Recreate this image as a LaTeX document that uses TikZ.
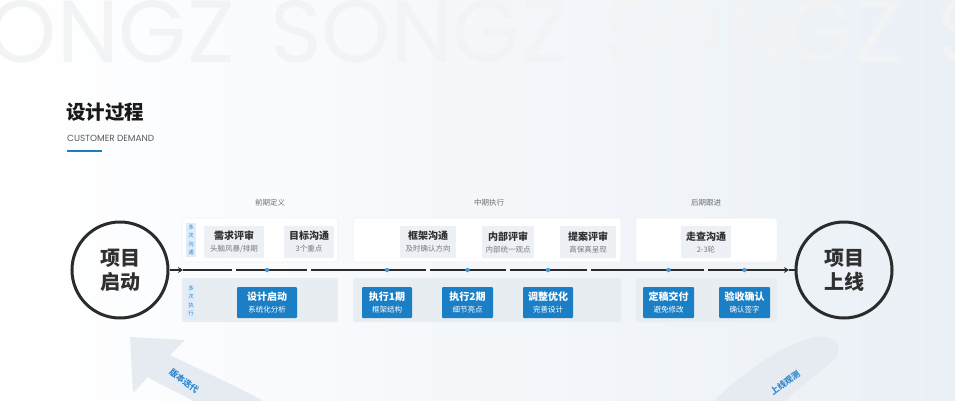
\documentclass[tikz,border=0pt]{standalone}
\usepackage{fontspec}
\setmainfont{Noto Sans CJK SC}
\newfontfamily\popf{Poppins}
\usetikzlibrary{arrows.meta}
\definecolor{ink}{HTML}{2B2B2B}
\definecolor{bblue}{HTML}{1B7FC5}
\definecolor{pgray}{HTML}{E8EDF2}
\definecolor{bgray}{HTML}{EDF0F4}
\definecolor{stripc}{HTML}{E0EDF8}
\definecolor{stxt}{HTML}{2E8AD0}
\definecolor{subc}{HTML}{7A7A7A}
\definecolor{ttl}{HTML}{303030}
\definecolor{wm}{HTML}{F2F3F4}
\definecolor{arrowc}{HTML}{E5EBF1}
\definecolor{dotc}{HTML}{4F9BD6}
\definecolor{pedge}{HTML}{EEF1F4}
\newcommand{\gtxt}[2]{{\fontsize{10}{13}\selectfont\bfseries #1}\\{\fontsize{7.5}{13}\selectfont\color{subc}#2}}
\newcommand{\btxt}[2]{{\fontsize{10}{13}\selectfont\bfseries #1}\\{\fontsize{7.5}{13}\selectfont #2}}
\begin{document}
\begin{tikzpicture}[x=1pt,y=-1pt,
  panelw/.style={fill=white, draw=pedge, line width=0.6pt, rounded corners=2pt, inner sep=0pt, minimum height=44pt},
  panelg/.style={fill=pgray, rounded corners=2pt, inner sep=0pt, minimum height=44pt},
  graybox/.style={fill=bgray, minimum height=32pt, inner sep=0pt, align=center, text=ttl},
  bluebox/.style={fill=bblue, minimum height=31pt, inner sep=0pt, align=center, text=white, rounded corners=1pt},
  stripbox/.style={fill=stripc, minimum width=10pt, inner sep=0pt, align=center, text=stxt, font=\fontsize{5.5}{8.5}\selectfont},
  phase/.style={text=subc!90!black, font=\fontsize{7.5}{9}\selectfont},
  bigc/.style={circle, draw=ink, line width=3pt, minimum size=96pt, inner sep=0pt, align=center, text=ttl, font=\fontsize{20}{24}\selectfont\bfseries},
  tl/.style={draw=ink, line width=2.5pt},
  dotn/.style={circle, fill=dotc, minimum size=4.5pt, inner sep=0pt},
  arrl/.style={text=stxt, font=\fontsize{8.5}{9}\selectfont\bfseries},
  wmark/.style={text=wm, font=\popf\fontsize{88}{88}\selectfont, anchor=base west, inner sep=0pt}
]
\useasboundingbox (0,0) rectangle (955,400);
\shade[left color=white, right color={rgb,255:red,234;green,240;blue,246}] (0,0) rectangle (955,400);
% watermark
\node[wmark] (w1) at (-64,62) {SONGZ};
\node[wmark] (w2) at (270,62) {SONGZ};
\node[wmark] (w3) at (603,62) {SONGZ};
\node[wmark] (w4) at (937,62) {SONGZ};
% title
\node[anchor=west, inner sep=0pt, text=black!90, font=\fontsize{19.5}{22}\selectfont\bfseries] (title) at (66,112) {设计过程};
\node[anchor=west, inner sep=0pt, text=black!65, font=\popf\fontsize{8.9}{10}\selectfont] (subtitle) at (67,138) {CUSTOMER DEMAND};
\coordinate (ul1) at (67,151);
\coordinate (ul2) at (102,151);
\draw[bblue, line width=2pt] (ul1) -- (ul2);
% bottom decorative arrows
\path[fill=arrowc] (130,337) -- (185,340) -- (170,355) .. controls (205,372) and (240,388) .. (265,402) -- (195,402) .. controls (178,392) and (160,385) .. (148,377) -- (133,393) -- cycle;
\node[arrl, rotate=-37] (iter) at (184,381) {版本迭代};
\path[fill=arrowc] (713,402) .. controls (740,375) and (780,345) .. (815,337) .. controls (832,334) and (843,345) .. (837,356) .. controls (825,370) and (800,385) .. (785,402) -- cycle;
\node[arrl, rotate=36] (obs) at (785,383) {上线观测};
% phase labels
\node[phase] (ph1) at (270,203) {前期定义};
\node[phase] (ph2) at (489,203) {中期执行};
\node[phase] (ph3) at (706,203) {后期跟进};
% panels
\node[panelw, minimum width=156pt] (P1) at (260,240) {};
\node[panelw, minimum width=268pt] (P2) at (487,240) {};
\node[panelw, minimum width=141pt] (P3) at (706.5,240) {};
\node[panelg, minimum width=156pt] (Q1) at (260,300) {};
\node[panelg, minimum width=268pt] (Q2) at (487,300) {};
\node[panelg, minimum width=141pt] (Q3) at (706.5,300) {};
% strips
\node[stripbox, minimum height=34pt] (S1) at (191,240) {多\\次\\沟\\通};
\node[stripbox, minimum height=38pt] (S2) at (191,301) {多\\次\\执\\行};
% upper gray boxes
\node[graybox, minimum width=60pt] (b1) at (234,242) {\gtxt{需求评审}{头脑风暴/排期}};
\node[graybox, minimum width=50pt] (b2) at (309,242) {\gtxt{目标沟通}{3个重点}};
\node[graybox, minimum width=56pt] (b3) at (428,242) {\gtxt{框架沟通}{及时确认方向}};
\node[graybox, minimum width=52pt] (b4) at (508,242) {\gtxt{内部评审}{内部统一观点}};
\node[graybox, minimum width=56pt] (b5) at (588,242) {\gtxt{提案评审}{高保真呈现}};
\node[graybox, minimum width=50pt] (b6) at (706,242) {\gtxt{走查沟通}{2-3轮}};
% lower blue boxes
\node[bluebox, minimum width=60pt] (c1) at (267,302.5) {\btxt{设计启动}{系统化分析}};
\node[bluebox, minimum width=50pt] (c2) at (387,302.5) {\btxt{执行1期}{框架结构}};
\node[bluebox, minimum width=51pt] (c3) at (467.5,302.5) {\btxt{执行2期}{细节亮点}};
\node[bluebox, minimum width=50pt] (c4) at (548,302.5) {\btxt{调整优化}{完善设计}};
\node[bluebox, minimum width=51pt] (c5) at (668.5,302.5) {\btxt{定稿交付}{避免修改}};
\node[bluebox, minimum width=51pt] (c6) at (744.5,302.5) {\btxt{验收确认}{确认签字}};
% circles
\node[bigc] (start) at (120,270) {项目\\启动};
\node[bigc] (finish) at (844,270) {项目\\上线};
% timeline
\coordinate (t1) at (183,270);
\coordinate (g1a) at (232,270); \coordinate (g1b) at (236,270);
\coordinate (g2a) at (307,270); \coordinate (g2b) at (311,270);
\coordinate (g3a) at (426,270); \coordinate (g3b) at (430,270);
\coordinate (g4a) at (506,270); \coordinate (g4b) at (510,270);
\coordinate (g5a) at (587,270); \coordinate (g5b) at (591,270);
\coordinate (g6a) at (704,270); \coordinate (g6b) at (708,270);
\coordinate (t2) at (789,270);
\draw[tl, -{Stealth[length=5pt,width=6pt]}] (start.east) -- (t1);
\draw[tl] (t1) -- (g1a);
\draw[tl] (g1b) -- (g2a);
\draw[tl] (g2b) -- (g3a);
\draw[tl] (g3b) -- (g4a);
\draw[tl] (g4b) -- (g5a);
\draw[tl] (g5b) -- (g6a);
\draw[tl, -{Stealth[length=5pt,width=6pt]}] (g6b) -- (t2);
\draw[tl] (t2) -- (finish.west);
% dots
\node[dotn] (d1) at (c1 |- t1) {};
\node[dotn] (d2) at (c2 |- t1) {};
\node[dotn] (d3) at (c3 |- t1) {};
\node[dotn] (d4) at (c4 |- t1) {};
\node[dotn] (d5) at (c5 |- t1) {};
\node[dotn] (d6) at (c6 |- t1) {};
\end{tikzpicture}
\end{document}
